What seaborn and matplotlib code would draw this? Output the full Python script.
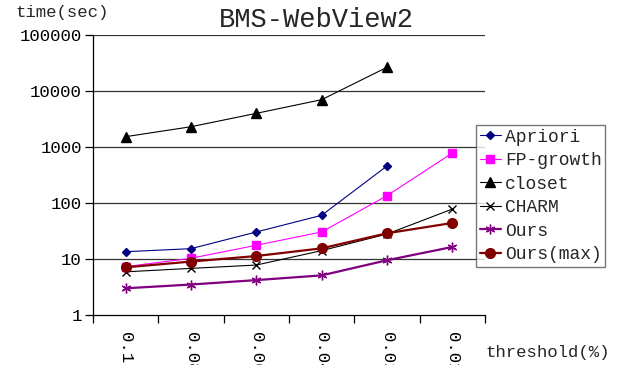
import matplotlib
matplotlib.use("Agg")
import matplotlib.pyplot as plt
import seaborn as sns
import numpy as np
import pandas as pd

categories = ["0.1", "0.08", "0.06", "0.04", "0.02", "0.01"]
apriori = [13.5, 15.3, 30.4, 60.3, 458, np.nan]
fp_growth = [7.3, 10.3, 17.6, 30.4, 135, 781]
closet = [1530, 2300, 3990, 7000, 26500, np.nan]
charm = [5.9, 6.8, 7.8, 14.1, 27.9, 78]
ours = [3.0, 3.5, 4.2, 5.1, 9.5, 16.4]
ours_max = [7.1, 9.0, 11.3, 15.5, 28.8, 44]

series_names = ["Apriori", "FP-growth", "closet", "CHARM", "Ours", "Ours(max)"]
series_values = [apriori, fp_growth, closet, charm, ours, ours_max]
colors = ["#000080", "#FF00FF", "#000000", "#000000", "#800080", "#800000"]
markers = ["D", "s", "^", "x", (6, 2, 0), "o"]
msizes = [4, 6, 6.5, 6, 7, 7]
lwidths = [0.8, 0.8, 0.8, 0.8, 1.6, 1.6]

sns.set_theme(style="white")
plt.rcParams["font.family"] = ["Liberation Mono", "DejaVu Sans Mono"]

fig = plt.figure(figsize=(6.33, 3.65), dpi=100)
ax = fig.add_axes([93 / 633, 1 - 315 / 365, (485 - 93) / 633, (315 - 35) / 365])
ax.set_yscale("log")

handles = []
for name, vals, c, m, ms, lw in zip(series_names, series_values, colors, markers, msizes, lwidths):
    df = pd.DataFrame({"threshold": categories, "time": vals}).dropna()
    sns.pointplot(data=df, x="threshold", y="time", order=categories, color=c,
                  markers=m, linestyles="-", errorbar=None, ax=ax,
                  markersize=ms, linewidth=lw, markeredgewidth=1.0)
    line = ax.lines[-1]
    line.set_label(name)
    handles.append(line)

ax.set_ylim(1, 100000)
ax.set_xlim(-0.5, 5.5)
ax.set_yticks([1, 10, 100, 1000, 10000, 100000])
ax.set_yticklabels(["1", "10", "100", "1000", "10000", "100000"])
ax.yaxis.set_minor_locator(matplotlib.ticker.NullLocator())
ax.set_xticks(np.arange(-0.5, 6.0, 1.0))
ax.set_xticklabels([])
for i, lab in enumerate(categories):
    ax.text(i, -0.06, lab, transform=ax.get_xaxis_transform(), rotation=270,
            ha="center", va="top", fontsize=12.5, color="black")
ax.grid(False)
for yv in [10, 100, 1000, 10000, 100000]:
    ax.axhline(yv, color="#333333", lw=0.9, zorder=0)
ax.tick_params(axis="both", which="major", direction="out", length=6, width=0.9,
               color="black", labelsize=12.5, labelcolor="black", left=True, bottom=True)
ax.tick_params(axis="y", pad=2)
for s in ["top", "right"]:
    ax.spines[s].set_visible(False)
for s in ["left", "bottom"]:
    ax.spines[s].set_color("black")
    ax.spines[s].set_linewidth(0.9)
ax.set_xlabel("")
ax.set_ylabel("")

leg = ax.legend(handles=handles, loc="upper left", bbox_to_anchor=(476 / 633, 1 - 125 / 365),
                bbox_transform=fig.transFigure, fontsize=13, frameon=True, fancybox=False,
                edgecolor="#555555", handlelength=1.2, handletextpad=0.2, labelspacing=0.36,
                borderpad=0.2, borderaxespad=0)
leg.get_frame().set_linewidth(1.0)

fig.text(316 / 633, 1 - 20 / 365, "BMS-WebView2", ha="center", va="center", fontsize=19.5)
fig.text(15 / 633, 1 - 13 / 365, "time(sec)", ha="left", va="center", fontsize=12.5)
fig.text(485 / 633, 1 - 352 / 365, "threshold(%)", ha="left", va="center", fontsize=12.5)

fig.savefig("out.png", dpi=100)
